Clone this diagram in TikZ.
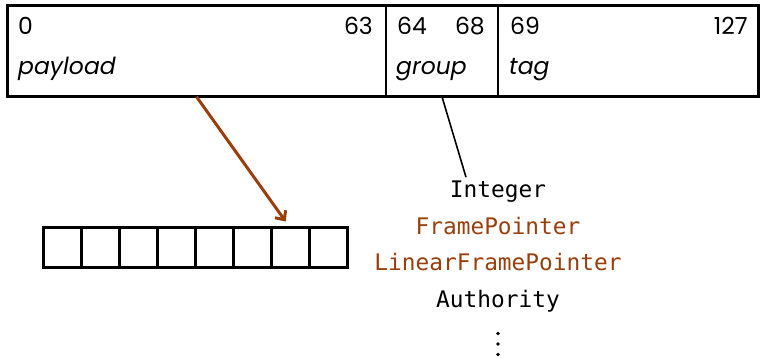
\documentclass[tikz,border=0pt]{standalone}
\usepackage{fontspec}
\setmainfont{Poppins}
\setmonofont{DejaVu Sans Mono}
\usetikzlibrary{arrows.meta,calc}
\definecolor{rust}{HTML}{9A3E0C}
\tikzset{
  field/.style={draw, line width=1.5pt, rectangle, inner sep=0pt},
  frame/.style={draw, line width=3pt, rectangle, inner sep=0pt},
  cell/.style={draw, line width=3pt, rectangle, inner sep=0pt,
    minimum width=38.1pt, minimum height=40pt},
  bitno/.style={inner sep=0pt, font=\fontsize{23.5}{23.5}\selectfont},
  fname/.style={inner sep=0pt, font=\fontsize{23.5}{23.5}\selectfont\itshape},
  tyname/.style={inner sep=0pt, font=\fontsize{22.8}{22.8}\ttfamily},
  ptr/.style={draw=rust, line width=3pt, -{Straight Barb[length=7pt,width=13pt,line width=3pt]}},
  link/.style={draw, line width=1.6pt},
}
\begin{document}
\begin{tikzpicture}[x=1pt,y=-1pt]
\useasboundingbox (0,0) rectangle (763,357);

% bit fields of the 128-bit word
\node[field, minimum width=379pt, minimum height=91pt] (payload) at (196.5,50.5) {};
\node[field, minimum width=112pt, minimum height=91pt] (group) at (442,50.5) {};
\node[field, minimum width=260pt, minimum height=91pt] (tag) at (628,50.5) {};
\node[frame, minimum width=751pt, minimum height=91pt] (word) at (382.5,50.5) {};

% bit ranges and field names
\node[bitno, anchor=base west] (b0) at (18,34) {0};
\node[bitno, anchor=base east] (b63) at (373,34) {63};
\node[fname, anchor=base west] (npay) at (18,74) {payload};
\node[bitno, anchor=base west] (b64) at (397,34) {64};
\node[bitno, anchor=base east] (b68) at (485,34) {68};
\node[fname, anchor=base west] (ngrp) at (396,74) {group};
\node[bitno, anchor=base west] (b69) at (510,34) {69};
\node[bitno, anchor=base east] (b127) at (748,34) {127};
\node[fname, anchor=base west] (ntag) at (509,74) {tag};

% the frame the payload points into
\foreach \i in {1,...,8} {
  \node[cell] (c\i) at ({43+38.1*(\i-0.5)},247) {};
}

% the types a group value may denote
\node[tyname, anchor=base] (tint) at (498,197) {Integer};
\node[tyname, anchor=base, text=rust] (tfp) at (498,234) {FramePointer};
\node[tyname, anchor=base, text=rust] (tlfp) at (498,270) {LinearFramePointer};
\node[tyname, anchor=base] (tauth) at (498,307) {Authority};
\node[inner sep=0pt] (tmore) at (498,344) {%
  \tikz[x=1pt,y=-1pt]{\foreach \d in {0,10.5,21} \fill (0,\d) circle (1.9pt);}};

\coordinate (tick) at ($(tint.north)+(-32,-3)$);

% connectors
\draw[link] (group.south) -- (tick);
\draw[ptr] (payload.south) -- ($(c7.north)+(-5,-4)$);
\end{tikzpicture}
\end{document}
